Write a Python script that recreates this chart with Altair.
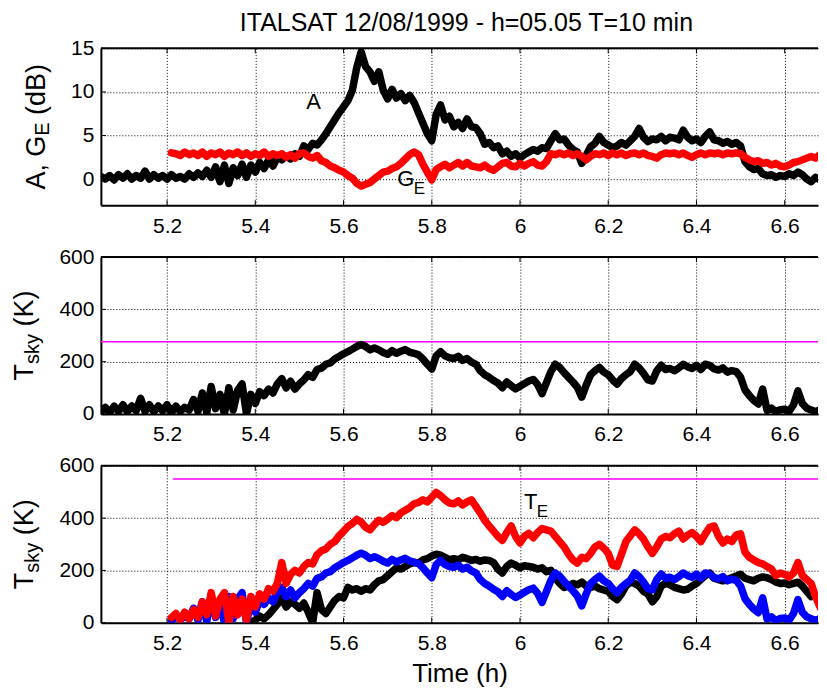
import altair as alt
import pandas as pd

FONT = "Liberation Sans"
TITLE = "ITALSAT 12/08/1999 - h=05.05 T=10 min"

X_DOMAIN = [5.05, 6.6755]
X_TICKS = [5.2, 5.4, 5.6, 5.8, 6.0, 6.2, 6.4, 6.6]
Y1_DOMAIN = [-3, 15]
Y1_TICKS = [0, 5, 10, 15]
Y2_DOMAIN = [0, 600]
Y2_TICKS = [0, 200, 400, 600]

# time samples (h)
T_FULL = [
    5.05, 5.06, 5.07, 5.08, 5.09, 5.10, 5.11, 5.12, 5.13, 5.14,
    5.15, 5.16, 5.17, 5.18, 5.19, 5.20, 5.21, 5.22, 5.23, 5.24,
    5.25, 5.26, 5.27, 5.28, 5.29, 5.30, 5.31, 5.32, 5.33, 5.34,
    5.35, 5.36, 5.37, 5.38, 5.39, 5.40, 5.41, 5.42, 5.43, 5.44,
    5.45, 5.46, 5.47, 5.48, 5.49, 5.50, 5.51, 5.52, 5.53, 5.54,
    5.55, 5.56, 5.57, 5.58, 5.59, 5.60, 5.61, 5.62, 5.63, 5.64,
    5.65, 5.66, 5.67, 5.68, 5.69, 5.70, 5.71, 5.72, 5.73, 5.74,
    5.75, 5.76, 5.77, 5.78, 5.79, 5.80, 5.81, 5.82, 5.83, 5.84,
    5.85, 5.86, 5.87, 5.88, 5.89, 5.90, 5.91, 5.92, 5.93, 5.94,
    5.95, 5.96, 5.97, 5.98, 5.99, 6.00, 6.01, 6.02, 6.03, 6.04,
    6.05, 6.06, 6.07, 6.08, 6.09, 6.10, 6.11, 6.12, 6.13, 6.14,
    6.15, 6.16, 6.17, 6.18, 6.19, 6.20, 6.21, 6.22, 6.23, 6.24,
    6.25, 6.26, 6.27, 6.28, 6.29, 6.30, 6.31, 6.32, 6.33, 6.34,
    6.35, 6.36, 6.37, 6.38, 6.39, 6.40, 6.41, 6.42, 6.43, 6.44,
    6.45, 6.46, 6.47, 6.48, 6.49, 6.50, 6.51, 6.52, 6.53, 6.54,
    6.55, 6.56, 6.57, 6.58, 6.59, 6.60, 6.61, 6.62, 6.63, 6.64,
    6.65, 6.66, 6.67, 6.68, 6.69, 6.70,
]
T_LATE = T_FULL[16:]      # from 5.21 h
T_B3 = T_FULL[34:162]     # 5.39 .. 6.66 h

# attenuation A (dB), from 5.05 h
A_DB = [
    0.3, 0.0, 0.4, -0.1, 0.5, 0.1, 0.6, 0.0, 0.4, 0.1,
    0.9, 0.0, 0.5, 0.1, 0.4, 0.0, 0.5, 0.1, 0.3, 0.0,
    0.6, 0.2, 0.7, 0.3, 1.0, 0.2, 1.4, -0.3, 1.6, -0.5,
    1.3, 0.4, 1.7, 0.2, 1.6, 0.8, 1.9, 1.2, 2.2, 1.5,
    2.5, 2.2, 2.6, 2.3, 2.9, 2.6, 3.8, 3.4, 4.1, 3.9,
    4.5, 5.2, 6.0, 6.8, 7.6, 8.3, 9.0, 10.2, 12.8, 14.6,
    12.9, 12.3, 11.2, 12.3, 10.2, 9.2, 10.3, 9.3, 9.8, 9.0,
    9.6, 8.8, 7.6, 6.4, 5.2, 4.4, 7.4, 8.5, 6.8, 7.2,
    6.0, 6.5, 5.8, 6.9, 6.0, 5.9, 5.2, 4.0, 4.2, 3.6,
    3.8, 2.9, 3.2, 2.6, 2.9, 2.4, 2.8, 3.1, 3.4, 3.2,
    3.6, 3.5, 4.4, 5.2, 4.5, 4.6, 3.9, 3.4, 3.1, 1.8,
    2.7, 3.7, 4.1, 4.9, 4.2, 3.9, 3.6, 3.8, 4.2, 3.9,
    4.4, 4.9, 5.8, 4.8, 4.3, 4.6, 4.5, 4.9, 4.4, 4.8,
    4.7, 4.5, 5.6, 4.8, 4.4, 4.6, 4.2, 4.9, 5.4, 4.5,
    4.4, 4.1, 4.3, 4.0, 4.2, 3.8, 2.0, 1.4, 1.1, 1.2,
    0.6, 0.4, 0.5, 0.2, 0.4, 0.3, 0.6, 0.4, 0.8, 0.5,
    0.0, -0.3, 0.2, -0.1, 0.1, -0.1,
]

# G_E (dB), from 5.21 h
G_E = [
    3.0, 2.9, 2.7, 3.1, 2.8, 3.0, 2.7, 3.1, 2.6, 3.0,
    2.8, 3.1, 2.6, 3.0, 2.8, 3.1, 2.7, 3.0, 2.6, 2.9,
    2.7, 3.1, 2.6, 2.9, 2.7, 2.9, 2.5, 2.8, 2.4, 2.9,
    3.0, 2.6, 2.4, 2.7, 2.1, 1.9, 1.5, 1.3, 1.0, 0.8,
    0.4, 0.1, -0.5, -0.8, -0.6, -0.4, 0.0, 0.4, 0.8, 0.9,
    1.2, 1.4, 1.8, 2.3, 2.8, 3.1, 2.8, 1.7, 0.8, -0.1,
    1.1, 1.4, 1.7, 1.3, 1.6, 1.9, 1.5, 1.9, 1.5, 1.4,
    1.3, 1.6, 1.2, 1.0, 1.4, 1.8, 1.9, 1.5, 1.4, 1.8,
    1.5, 1.8, 2.0, 1.6, 1.5, 2.0, 2.9, 2.8, 3.0, 2.8,
    3.0, 2.7, 2.9, 2.6, 2.2, 2.6, 2.9, 2.8, 3.0, 2.7,
    3.0, 2.8, 3.0, 2.7, 2.9, 3.0, 2.8, 3.0, 2.7, 2.6,
    2.4, 2.8, 3.0, 2.9, 3.0, 2.8, 3.0, 2.7, 2.5, 2.8,
    3.0, 2.8, 3.0, 2.9, 3.0, 2.8, 3.0, 2.9, 3.0, 2.9,
    2.5, 2.2, 2.0, 2.1, 1.8, 1.9, 1.6, 1.8, 1.5, 1.4,
    1.6, 1.9, 2.0, 2.2, 2.4, 2.6, 2.4, 2.8, 3.0, 2.9,
]

# T_sky (K), from 5.05 h
T_SKY = [
    10, 25, 5, 30, 10, 35, 8, 30, 12, 60,
    10, 35, 8, 30, 12, 35, 5, 30, 10, 25,
    15, 55, 10, 80, 5, 105, 20, 75, 0, 100,
    15, 90, 115, 0, 75, 40, 85, 70, 95, 80,
    115, 135, 100, 125, 95, 115, 130, 150, 140, 170,
    175, 190, 195, 210, 220, 230, 238, 248, 258, 266,
    258, 245, 252, 245, 235, 228, 242, 232, 240, 246,
    236, 232, 226, 210, 190, 172, 222, 238, 222, 215,
    212, 220, 205, 212, 198, 190, 165, 150, 140, 128,
    118, 100, 122, 108, 96, 106, 116, 126, 132, 112,
    78, 120, 162, 190, 178, 158, 140, 122, 102, 64,
    110, 150, 165, 178, 160, 150, 130, 114, 135, 150,
    162, 190, 176, 155, 130, 126, 165, 186, 170, 174,
    165, 176, 190, 180, 174, 186, 170, 190, 186, 172,
    168, 176, 160, 166, 162, 140, 92, 70, 52, 38,
    95, 14, 22, 8, 16, 18, 10, 35, 88, 40,
    22, 15, 8, 16, 10, 12,
]
T_SKY_LATE = T_SKY[16:]

# T_E (K), from 5.21 h
T_E = [
    20, 35, 10, 40, 15, 50, 20, 80, 30, 115,
    25, 90, 115, 0, 100, 30, 90, 10, 100, 60,
    110, 90, 130, 120, 150, 230, 150, 185, 200, 190,
    215, 230, 225, 260, 275, 282, 300, 310, 332, 350,
    368, 380, 395, 385, 365, 355, 375, 392, 384, 396,
    410, 402, 420, 430, 440, 455, 460, 470, 462, 480,
    498, 486, 470, 458, 455, 466, 450, 462, 470, 445,
    420, 392, 370, 350, 330, 315, 345, 370, 330, 305,
    330, 342, 325, 345, 360, 355, 350, 330, 310, 290,
    262, 240, 228, 250, 245, 265, 290, 300, 285, 265,
    220, 215, 262, 310, 332, 355, 340, 320, 290, 265,
    290, 320, 330, 325, 340, 350, 320, 335, 345, 330,
    310, 340, 365, 370, 330, 305, 320, 310, 335, 340,
    270, 250, 240, 230, 225, 215, 205, 180, 190, 185,
    175, 190, 230, 180, 165, 150, 100, 60, 25, 10,
]

# black trace of the lower panel (K), 5.39 .. 6.66 h
T_SKY_B3 = [
    0, 10, 25, 15, 30, 50, 70, 95, 60, 80,
    70, 55, 75, 40, 0, 115, 50, 35, 60, 85,
    100, 95, 135, 125, 130, 120, 130, 125, 145, 160,
    165, 180, 195, 210, 205, 215, 225, 230, 228, 240,
    245, 255, 262, 258, 250, 240, 245, 240, 250, 245,
    238, 242, 235, 240, 238, 230, 205, 190, 215, 228,
    220, 210, 218, 215, 212, 205, 210, 195, 200, 170,
    150, 135, 140, 150, 145, 155, 140, 135, 140, 130,
    125, 120, 100, 88, 110, 140, 155, 150, 140, 120,
    110, 80, 100, 140, 150, 145, 135, 130, 125, 128,
    140, 150, 165, 180, 190, 170, 165, 160, 165, 172,
    178, 185, 170, 165, 160, 170, 175, 172, 165, 155,
    150, 152, 145, 150, 155, 140, 120, 100,
]

LIMIT_2 = [276]
LIMIT_3 = [550]
LIMIT_3_T = [5.213]
LIMIT_3_T2 = [6.70]

ANN1_T = [5.532, 5.741, 5.772]
ANN1_V = [8.9, 0.03, -1.1]
ANN1_S = ["A", "G", "E"]
ANN1_FS = [22, 22, 17]

ANN3_T = [6.024, 6.051]
ANN3_V = [462, 424]
ANN3_S = ["T", "E"]
ANN3_FS = [22, 17]

W, H = 718, 157
LW = 7.5


def encs(y_domain, y_ticks, xtitle=None):
    xax = alt.Axis(values=X_TICKS, format="~g", grid=True, gridColor="black",
                   gridDash=[1, 2], gridWidth=1, ticks=False, tickSize=0,
                   labelFontSize=21, labelFont=FONT, labelColor="black",
                   labelPadding=10, labelFlush=False, domain=True,
                   domainColor="black", domainWidth=2, title=xtitle,
                   titleFont=FONT, titleFontSize=26, titleFontWeight="normal",
                   titleColor="black", titleBaseline="alphabetic", titleY=59)
    yax = alt.Axis(values=y_ticks, grid=True, gridColor="black", gridDash=[1, 2],
                   gridWidth=1, ticks=False, tickSize=0, labelFontSize=21,
                   labelFont=FONT, labelColor="black", labelPadding=7,
                   labelFlush=False, domain=True, domainColor="black",
                   domainWidth=2, title=None)
    X = alt.X("t:Q", scale=alt.Scale(domain=X_DOMAIN, nice=False, zero=False), axis=xax)
    Y = alt.Y("v:Q", scale=alt.Scale(domain=y_domain, nice=False, zero=False), axis=yax)
    return X, Y


def frame(X, Y, y_ticks):
    top = alt.Chart(pd.DataFrame({"k": [0]})).mark_rule(color="black", strokeWidth=2).encode(
        x=alt.value(0), x2=alt.value(W), y=alt.value(0))
    xt = pd.DataFrame({"t": X_TICKS})
    xb = alt.Chart(xt).mark_rule(color="black", strokeWidth=1).encode(
        x=X, y=alt.value(H), y2=alt.value(H - 5))
    xtp = alt.Chart(xt).mark_rule(color="black", strokeWidth=1).encode(
        x=X, y=alt.value(0), y2=alt.value(5))
    yt = pd.DataFrame({"v": y_ticks})
    yl = alt.Chart(yt).mark_rule(color="black", strokeWidth=1).encode(
        y=Y, x=alt.value(0), x2=alt.value(5))
    return [top, xb, xtp, yl]


def series(t, v, color, X, Y, width=LW):
    df = pd.DataFrame({"t": t, "v": v})
    return alt.Chart(df).mark_line(color=color, strokeWidth=width, strokeJoin="round",
                                   strokeCap="round", clip=True).encode(x=X, y=Y)


def text_px(txt, x, y, fs, angle=None, align="left", baseline="alphabetic"):
    kw = dict(align=align, baseline=baseline, font=FONT, fontSize=fs, color="black")
    if angle is not None:
        kw["angle"] = angle
    return alt.Chart(pd.DataFrame({"s": [txt]})).mark_text(**kw).encode(
        x=alt.value(x), y=alt.value(y), text="s:N")


def annotations(ts, vs, ss, fss, X, Y):
    df = pd.DataFrame({"t": ts, "v": vs, "s": ss, "fs": fss})
    return alt.Chart(df).mark_text(font=FONT, color="black", align="center",
                                   baseline="middle").encode(
        x=X, y=Y, text="s:N", size=alt.Size("fs:Q", scale=None, legend=None))


def tsky_title():
    return [
        text_px("T", -68, 123.5, 27, angle=270),
        text_px("sky", -62, 107, 20, angle=270),
        text_px("(K)", -68, 69.5, 27, angle=270),
    ]


# Panel 1
X1, Y1 = encs(Y1_DOMAIN, Y1_TICKS)
p1 = alt.layer(
    *frame(X1, Y1, Y1_TICKS),
    series(T_FULL, A_DB, "black", X1, Y1),
    series(T_LATE, G_E, "#ff0000", X1, Y1),
    annotations(ANN1_T, ANN1_V, ANN1_S, ANN1_FS, X1, Y1),
    text_px("A, G", -56, 141.4, 27, angle=270),
    text_px("E", -52, 87.4, 20, angle=270),
    text_px("(dB)", -56, 66.6, 27, angle=270),
    text_px(TITLE, 366, -17, 25, align="center"),
).properties(width=W, height=H)

# Panel 2
X2, Y2 = encs(Y2_DOMAIN, Y2_TICKS)
p2 = alt.layer(
    *frame(X2, Y2, Y2_TICKS),
    alt.Chart(pd.DataFrame({"v": LIMIT_2})).mark_rule(color="#ff00ff", strokeWidth=1.5).encode(y=Y2),
    series(T_FULL, T_SKY, "black", X2, Y2),
    *tsky_title(),
).properties(width=W, height=H)

# Panel 3
X3, Y3 = encs(Y2_DOMAIN, Y2_TICKS, xtitle="Time (h)")
p3 = alt.layer(
    *frame(X3, Y3, Y2_TICKS),
    alt.Chart(pd.DataFrame({"t": LIMIT_3_T, "t2": LIMIT_3_T2, "v": LIMIT_3})).mark_rule(
        color="#ff00ff", strokeWidth=1.5, clip=True).encode(x=X3, x2="t2:Q", y=Y3),
    series(T_B3, T_SKY_B3, "black", X3, Y3),
    series(T_LATE, T_SKY_LATE, "#0000ff", X3, Y3),
    series(T_LATE, T_E, "#ff0000", X3, Y3),
    annotations(ANN3_T, ANN3_V, ANN3_S, ANN3_FS, X3, Y3),
    *tsky_title(),
).properties(width=W, height=H)

chart = alt.vconcat(p1, p2, p3, spacing=52, bounds="flush").properties(
    padding={"left": 3, "right": 0, "top": 3, "bottom": 0},
    background="white",
).configure_view(strokeWidth=0)

chart.save("out.html", embed_options={"renderer": "svg", "actions": False})
